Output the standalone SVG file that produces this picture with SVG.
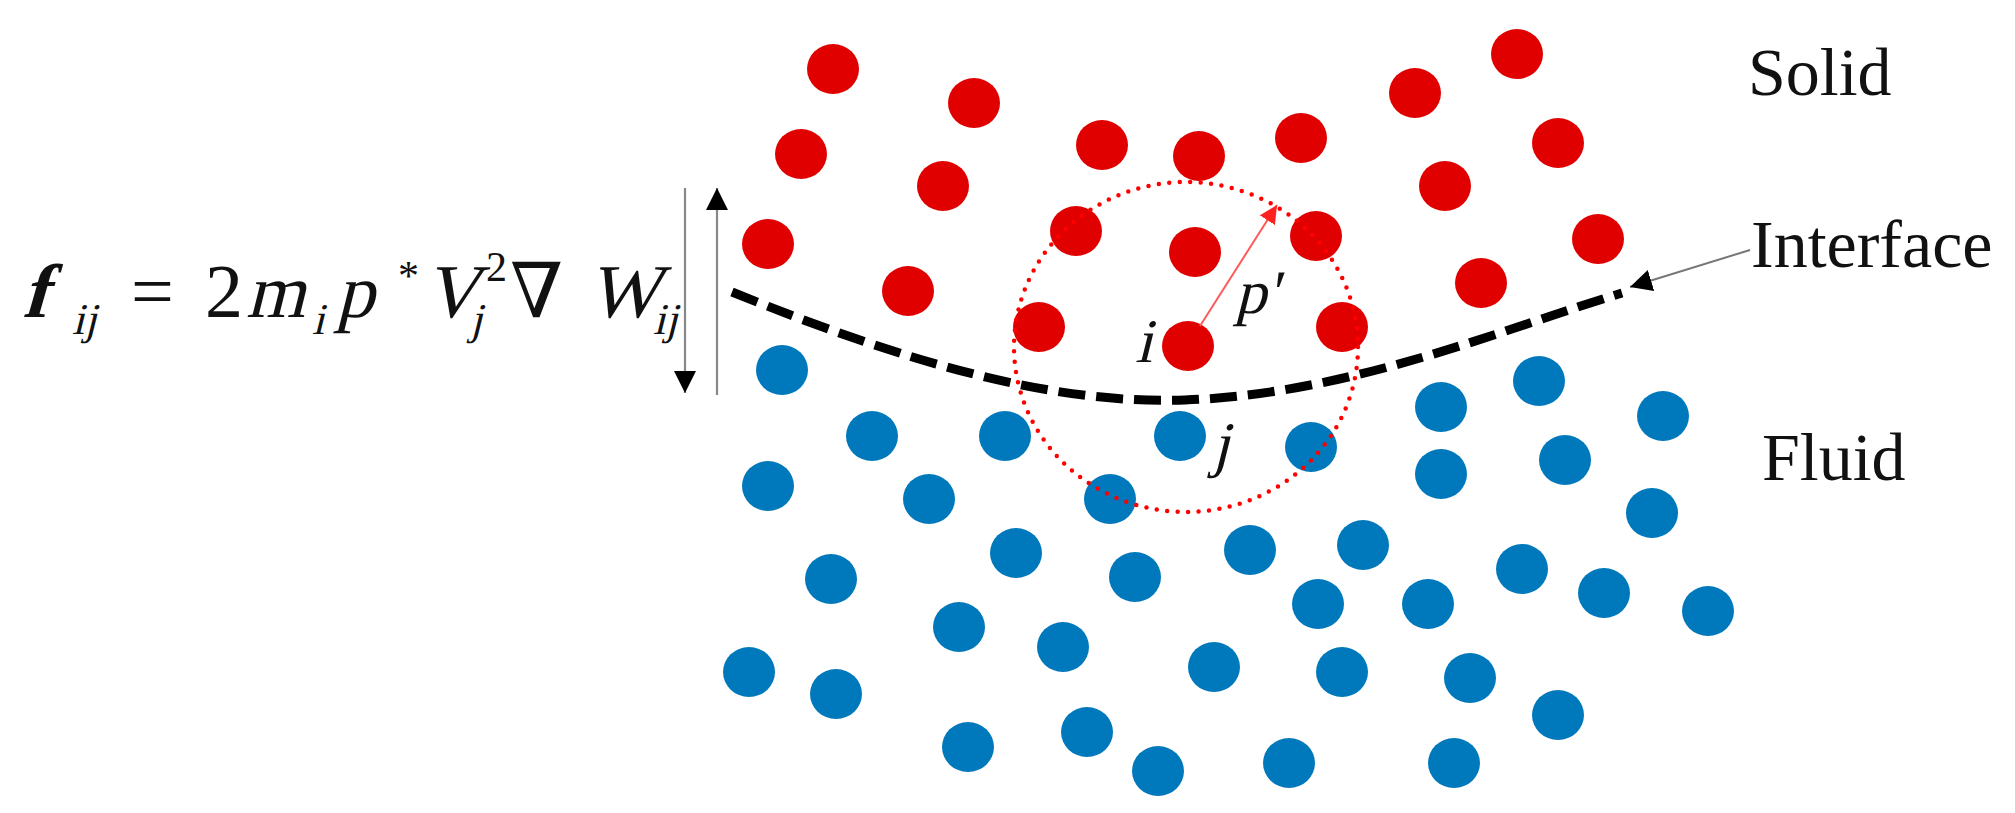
<svg xmlns="http://www.w3.org/2000/svg" width="2015" height="813" viewBox="0 0 2015 813">
<style>
  .solid ellipse { fill: #e00000; }
  .fluid ellipse { fill: #0078bc; }
  text { font-family: "Liberation Serif", "Times New Roman", serif; fill: #111; font-style: normal; }
  .sym { font-family: "Liberation Serif", "DejaVu Serif", serif; }
</style>
<defs>
  <marker id="ahBlack" viewBox="0 0 10 10" refX="10" refY="5" markerWidth="22" markerHeight="22" markerUnits="userSpaceOnUse" orient="auto">
    <path d="M0,0 L10,5 L0,10 Z" fill="#000"/>
  </marker>
  <marker id="ahRed" viewBox="0 0 10 10" refX="10" refY="5" markerWidth="18" markerHeight="18" markerUnits="userSpaceOnUse" orient="auto">
    <path d="M0,0 L10,5 L0,10 Z" fill="#ff2020"/>
  </marker>
</defs>
<rect width="2015" height="813" fill="#ffffff"/>

<g id="solid-particles" class="solid">
  <ellipse cx="833" cy="69" rx="26" ry="25"/>
  <ellipse cx="974" cy="103" rx="26" ry="25"/>
  <ellipse cx="801" cy="154" rx="26" ry="25"/>
  <ellipse cx="943" cy="186" rx="26" ry="25"/>
  <ellipse cx="1102" cy="145" rx="26" ry="25"/>
  <ellipse cx="1199" cy="156" rx="26" ry="25"/>
  <ellipse cx="768" cy="244" rx="26" ry="25"/>
  <ellipse cx="908" cy="291" rx="26" ry="25"/>
  <ellipse cx="1076" cy="231" rx="26" ry="25"/>
  <ellipse cx="1195" cy="252" rx="26" ry="25"/>
  <ellipse cx="1039" cy="327" rx="26" ry="25"/>
  <ellipse id="particle-i" cx="1188" cy="346" rx="26" ry="25"/>
  <ellipse cx="1517" cy="54" rx="26" ry="25"/>
  <ellipse cx="1415" cy="93" rx="26" ry="25"/>
  <ellipse cx="1301" cy="138" rx="26" ry="25"/>
  <ellipse cx="1558" cy="143" rx="26" ry="25"/>
  <ellipse cx="1445" cy="186" rx="26" ry="25"/>
  <ellipse cx="1316" cy="236" rx="26" ry="25"/>
  <ellipse cx="1598" cy="239" rx="26" ry="25"/>
  <ellipse cx="1481" cy="283" rx="26" ry="25"/>
  <ellipse cx="1342" cy="327" rx="26" ry="25"/>
</g>

<g id="fluid-particles" class="fluid">
  <ellipse cx="782" cy="370" rx="26" ry="25"/>
  <ellipse cx="872" cy="436" rx="26" ry="25"/>
  <ellipse cx="1005" cy="436" rx="26" ry="25"/>
  <ellipse id="particle-j" cx="1180" cy="436" rx="26" ry="25"/>
  <ellipse cx="1311" cy="447" rx="26" ry="25"/>
  <ellipse cx="1441" cy="407" rx="26" ry="25"/>
  <ellipse cx="1539" cy="381" rx="26" ry="25"/>
  <ellipse cx="1663" cy="416" rx="26" ry="25"/>
  <ellipse cx="768" cy="486" rx="26" ry="25"/>
  <ellipse cx="929" cy="499" rx="26" ry="25"/>
  <ellipse cx="1110" cy="499" rx="26" ry="25"/>
  <ellipse cx="1441" cy="474" rx="26" ry="25"/>
  <ellipse cx="1565" cy="460" rx="26" ry="25"/>
  <ellipse cx="1652" cy="513" rx="26" ry="25"/>
  <ellipse cx="831" cy="579" rx="26" ry="25"/>
  <ellipse cx="1016" cy="553" rx="26" ry="25"/>
  <ellipse cx="1135" cy="577" rx="26" ry="25"/>
  <ellipse cx="1250" cy="550" rx="26" ry="25"/>
  <ellipse cx="1363" cy="545" rx="26" ry="25"/>
  <ellipse cx="1318" cy="604" rx="26" ry="25"/>
  <ellipse cx="1428" cy="604" rx="26" ry="25"/>
  <ellipse cx="1522" cy="569" rx="26" ry="25"/>
  <ellipse cx="1604" cy="593" rx="26" ry="25"/>
  <ellipse cx="1708" cy="611" rx="26" ry="25"/>
  <ellipse cx="959" cy="627" rx="26" ry="25"/>
  <ellipse cx="1063" cy="647" rx="26" ry="25"/>
  <ellipse cx="1214" cy="667" rx="26" ry="25"/>
  <ellipse cx="1342" cy="672" rx="26" ry="25"/>
  <ellipse cx="1470" cy="678" rx="26" ry="25"/>
  <ellipse cx="749" cy="672" rx="26" ry="25"/>
  <ellipse cx="836" cy="694" rx="26" ry="25"/>
  <ellipse cx="968" cy="747" rx="26" ry="25"/>
  <ellipse cx="1087" cy="732" rx="26" ry="25"/>
  <ellipse cx="1158" cy="771" rx="26" ry="25"/>
  <ellipse cx="1289" cy="763" rx="26" ry="25"/>
  <ellipse cx="1454" cy="763" rx="26" ry="25"/>
  <ellipse cx="1558" cy="715" rx="26" ry="25"/>
</g>

<g id="interface-line">
  <path d="M732,292 C900,360 1050,405 1185,400 C1350,394 1500,330 1622,293" fill="none" stroke="#000" stroke-width="9" stroke-dasharray="27 11"/>
</g>

<g id="support-domain">
  <ellipse cx="1186" cy="347" rx="172" ry="165" fill="none" stroke="#ff0000" stroke-width="4.5" stroke-linecap="round" stroke-dasharray="0 10.5"/>
</g>

<g id="connectors">
  <line x1="1200" y1="326" x2="1277" y2="205" stroke="#ff5a5a" stroke-width="2" marker-end="url(#ahRed)"/>
  <line x1="685" y1="188" x2="685" y2="393" stroke="#888" stroke-width="2.2" marker-end="url(#ahBlack)"/>
  <line x1="717" y1="395" x2="717" y2="188" stroke="#888" stroke-width="2.2" marker-end="url(#ahBlack)"/>
  <line x1="1750" y1="250" x2="1630" y2="287" stroke="#777" stroke-width="2" marker-end="url(#ahBlack)"/>
</g>

<g id="particle-labels" font-size="62">
  <text transform="translate(1135 362) skewX(-14)">i</text>
  <text transform="translate(1235 313) skewX(-14)">p'</text>
  <text transform="translate(1212 465) skewX(-14)">j</text>
</g>

<g id="region-labels" font-size="68">
  <text x="1748" y="95">Solid</text>
  <text x="1751" y="267">Interface</text>
  <text x="1762" y="480">Fluid</text>
</g>

<g id="formula" font-size="76">
  <text transform="translate(22 317) skewX(-16)" font-weight="bold">f</text>
  <text transform="translate(72 334) skewX(-14)" font-size="44">ij</text>
  <text x="131" y="317">=</text>
  <text x="205" y="317">2</text>
  <text transform="translate(246 317) skewX(-14)">m</text>
  <text transform="translate(312 334) skewX(-14)" font-size="44">i</text>
  <text transform="translate(336 317) skewX(-14)">p</text>
  <text x="398" y="290" font-size="42">*</text>
  <text transform="translate(424 317) skewX(-14)">V</text>
  <text transform="translate(470 334) skewX(-14)" font-size="44">j</text>
  <text x="486" y="281" font-size="42">2</text>
  <text class="sym" x="510" y="317">∇</text>
  <text transform="translate(588 317) skewX(-14)">W</text>
  <text transform="translate(653 334) skewX(-14)" font-size="44">ij</text>
</g>
</svg>
